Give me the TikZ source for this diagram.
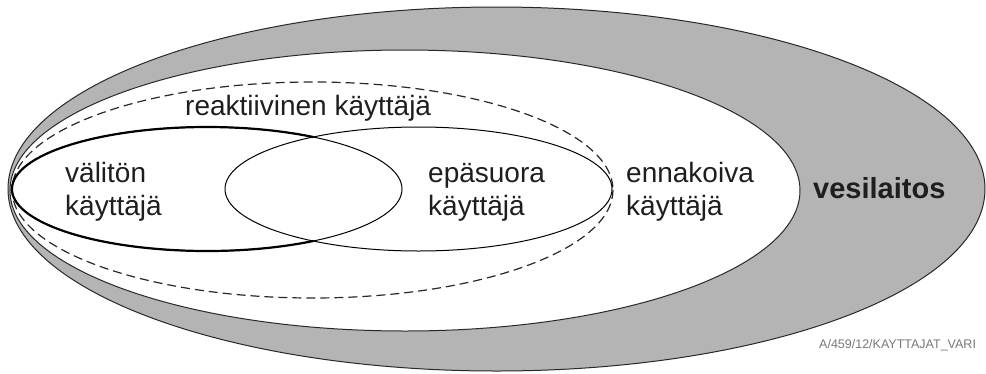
\documentclass[tikz,border=0pt]{standalone}
\usepackage{fontspec}
\setmainfont{Liberation Sans}
\definecolor{bandgray}{RGB}{180,180,180}
\definecolor{linegray}{RGB}{40,40,40}
\definecolor{txt}{RGB}{30,30,30}
\definecolor{codegray}{RGB}{120,120,120}
\tikzset{
  outline/.style={draw=linegray, line width=1pt},
  dashedring/.style={draw=linegray, line width=1.2pt, dash pattern=on 9pt off 5pt},
  thinring/.style={draw=black, line width=1pt},
  boldring/.style={draw=black, line width=2.2pt, line cap=round},
  lbl/.style={inner sep=0pt, text=txt, font=\fontsize{28}{33}\selectfont, align=left},
  boldlbl/.style={inner sep=0pt, text=txt, font=\fontsize{29}{34}\selectfont\bfseries},
  code/.style={inner sep=0pt, text=codegray, font=\fontsize{12.5}{14}\selectfont}
}
\begin{document}
\begin{tikzpicture}[x=1pt,y=-1pt]
\useasboundingbox (0,0) rectangle (986,373);
% outer organisation (vesilaitos)
\fill[bandgray] (496.5,189) ellipse [x radius=488.5, y radius=182];
\draw[outline] (496.5,189) ellipse [x radius=488.5, y radius=182];
% white user area
\fill[white] (405,190.5) ellipse [x radius=395, y radius=140.5];
\draw[outline] (405,190.5) ellipse [x radius=395, y radius=140.5];
% reaktiivinen kayttaja (dashed)
\draw[dashedring] (312.5,190) ellipse [x radius=300.5, y radius=108];
% epasuora kayttaja (thin)
\draw[thinring] (418.5,189) ellipse [x radius=193.5, y radius=62];
% valiton kayttaja: thin inside the overlap, bold elsewhere
\draw[thinring] (207,189) ellipse [x radius=195, y radius=62];
\draw[boldring, shift={(207,189)}] (57:195 and 62)
  arc[start angle=57, end angle=303, x radius=195, y radius=62];
% labels
\node[lbl, anchor=base west] (reak) at (185,115) {reaktiivinen käyttäjä};
\node[lbl, anchor=west] (valiton) at (65,192) {välitön\\käyttäjä};
\node[lbl, anchor=west] (epasuora) at (428,192) {epäsuora\\käyttäjä};
\node[lbl, anchor=west] (ennakoiva) at (626,192) {ennakoiva\\käyttäjä};
\node[boldlbl, anchor=base west] (vesi) at (813,198) {vesilaitos};
\node[code, anchor=west] (ref) at (819,345) {A/459/12/KAYTTAJAT\_VARI};
\end{tikzpicture}
\end{document}
